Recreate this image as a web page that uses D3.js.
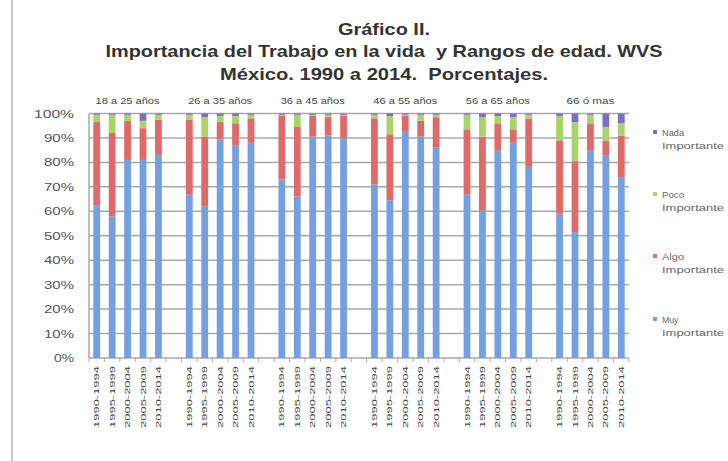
<!DOCTYPE html>
<html>
<head>
<meta charset="utf-8">
<script src="https://cdn.jsdelivr.net/npm/d3@7"></script>
<style>
  body { margin: 0; background: #fff; }
  text { font-family: "Liberation Sans", Arial, sans-serif; }
</style>
</head>
<body>
<div id="chart"></div>
<script>
// age groups, periods and series
var ageGroups = ["18 a 25 años", "26 a 35 años", "36 a 45 años", "46 a 55 años", "56 a 65 años", "66 ó mas"];
var periods = ["1990-1994", "1995-1999", "2000-2004", "2005-2009", "2010-2014"];
var seriesNames = ["Muy Importante", "Algo Importante", "Poco Importante", "Nada Importante"];
var yTicks = [0, 10, 20, 30, 40, 50, 60, 70, 80, 90, 100];

// percentages, 5 periods per age group
var muy  = [62.5, 58, 81, 81, 83,   67, 62, 89.5, 87, 88,   73, 66, 90.5, 91, 90,
            71, 64.5, 92.5, 90.5, 86,   67, 60.5, 85, 88, 78.5,   59, 51.5, 85, 83, 74];
var algo = [34, 34, 16, 13, 14.5,   30.5, 28.5, 7, 9, 10,   26, 28.5, 8.5, 7.5, 9,
            27, 27, 6.5, 6.5, 12.5,   26.5, 30, 11, 5.5, 19.5,   30, 29, 11, 6, 17];
var poco = [3, 7.5, 2.5, 3, 2,   2, 8, 2.5, 3, 1.5,   0.5, 5, 0.5, 1, 0.5,
            1.5, 7.5, 0.5, 2.5, 1,   6, 8, 3, 5, 1.5,   10, 16, 3.5, 5.5, 5];
var nada = [0.5, 0.5, 0.5, 3, 0.5,   0.5, 1.5, 1, 1, 0.5,   0.5, 0.5, 0.5, 0.5, 0.5,
            0.5, 1, 0.5, 0.5, 0.5,   0.5, 1.5, 1, 1.5, 0.5,   1, 3.5, 0.5, 5.5, 4];

var colors = ["#72a0e0", "#e06a6a", "#a9d46a", "#7d6fc4"];

var W = 728, H = 461;
var svg = d3.select("#chart").append("svg").attr("width", W).attr("height", H);
svg.append("rect").attr("width", W).attr("height", H).attr("fill", "#fff");

// stretch a text to a given width
function fit(sel, w) {
  sel.attr("textLength", w).attr("lengthAdjust", "spacingAndGlyphs");
}

// categories: 5 bars per group, one blank slot between groups
var cats = [];
var rows = [];
ageGroups.forEach(function(g, gi) {
  periods.forEach(function(p, pi) {
    var k = gi * 5 + pi;
    cats.push(g + "|" + p);
    rows.push({ key: g + "|" + p, group: g, period: p,
      "Muy Importante": muy[k], "Algo Importante": algo[k],
      "Poco Importante": poco[k], "Nada Importante": nada[k] });
  });
  if (gi < ageGroups.length - 1) cats.push("gap" + gi);
});

var x = d3.scaleBand().domain(cats).range([89, 629]).paddingInner(0.56).paddingOuter(0.28);
var y = d3.scaleLinear().domain([0, 100]).range([358, 113.5]);

// border line at left
svg.append("line").attr("x1", 12).attr("x2", 12).attr("y1", 0).attr("y2", H)
  .attr("stroke", "#c8c8c8").attr("stroke-width", 2);

// grid
svg.append("g").selectAll("line").data(yTicks).enter().append("line")
  .attr("x1", 89).attr("x2", 629)
  .attr("y1", function(d) { return y(d); }).attr("y2", function(d) { return y(d); })
  .attr("stroke", "#a9a9a9").attr("stroke-width", 1.5);
svg.append("line").attr("x1", 89).attr("x2", 89).attr("y1", y(100)).attr("y2", y(0))
  .attr("stroke", "#a9a9a9").attr("stroke-width", 1.5);

// y labels
svg.append("g").selectAll("text").data(yTicks).enter().append("text")
  .attr("x", 74).attr("y", function(d) { return y(d) + 4; })
  .attr("text-anchor", "end").attr("font-size", 10).attr("fill", "#555")
  .text(function(d) { return d + "%"; })
  .each(function(d) { fit(d3.select(this), String(d).length * 10 + 10); });

// x tick marks at slot boundaries
var step = x.step();
var bounds = d3.range(cats.length + 1).map(function(i) { return 89 + i * (540 / cats.length); });
svg.append("g").selectAll("line").data(bounds).enter().append("line")
  .attr("x1", function(d) { return d; }).attr("x2", function(d) { return d; })
  .attr("y1", y(0)).attr("y2", y(0) + 4)
  .attr("stroke", "#c9a090").attr("stroke-width", 1);

// stacked bars
var stack = d3.stack().keys(seriesNames);
var stacked = stack(rows);
svg.append("g").selectAll("g").data(stacked).enter().append("g")
  .attr("fill", function(d, i) { return colors[i]; })
  .selectAll("rect").data(function(d) { return d; }).enter().append("rect")
  .attr("x", function(d) { return x(d.data.key); })
  .attr("width", x.bandwidth())
  .attr("y", function(d) { return y(d[1]); })
  .attr("height", function(d) { return y(d[0]) - y(d[1]); });

// period labels (vertical)
svg.append("g").selectAll("text").data(rows).enter().append("text")
  .attr("transform", function(d) {
    return "translate(" + (x(d.key) + x.bandwidth() / 2 + 2.5) + ",366) rotate(-90)";
  })
  .attr("text-anchor", "end").attr("font-size", 7).attr("fill", "#444")
  .text(function(d) { return d.period; })
  .each(function() { fit(d3.select(this), 62); });

// age group labels on top
svg.append("g").selectAll("text").data(ageGroups).enter().append("text")
  .attr("x", function(g) {
    return (x(g + "|" + periods[0]) + x(g + "|" + periods[4]) + x.bandwidth()) / 2;
  })
  .attr("y", 104).attr("text-anchor", "middle").attr("font-size", 9).attr("fill", "#444")
  .text(function(g) { return g; })
  .each(function(g) { fit(d3.select(this), g.length > 9 ? 64 : 48); });

// title
var titleLines = ["Gráfico II.",
  "Importancia del Trabajo en la vida  y Rangos de edad. WVS",
  "México. 1990 a 2014.  Porcentajes."];
var titleY = [35, 57, 80];
var titleW = [92, 557, 328];
svg.append("g").selectAll("text").data(titleLines).enter().append("text")
  .attr("x", 384).attr("y", function(d, i) { return titleY[i]; })
  .attr("text-anchor", "middle").attr("font-size", 17).attr("font-weight", "bold")
  .attr("fill", "#333").attr("xml:space", "preserve")
  .text(function(d) { return d; })
  .each(function(d, i) { fit(d3.select(this), titleW[i]); });

// legend
var legendOrder = [3, 2, 1, 0];
var legendY = [133, 195, 257, 320];
var leg = svg.append("g").selectAll("g").data(legendOrder).enter().append("g")
  .attr("transform", function(d, i) { return "translate(653," + legendY[i] + ")"; });
leg.append("rect").attr("x", 0).attr("y", -3).attr("width", 4).attr("height", 4)
  .attr("fill", function(d) { return colors[d]; });
leg.append("text").attr("x", 9).attr("y", 3).attr("font-size", 9).attr("fill", "#666")
  .text(function(d) { return seriesNames[d].split(" ")[0]; })
  .each(function(d) { fit(d3.select(this), seriesNames[d].split(" ")[0].length * 5.5); });
leg.append("text").attr("x", 9).attr("y", 16).attr("font-size", 9).attr("fill", "#666")
  .text(function(d) { return seriesNames[d].split(" ")[1]; })
  .each(function() { fit(d3.select(this), 62); });
</script>
</body>
</html>
